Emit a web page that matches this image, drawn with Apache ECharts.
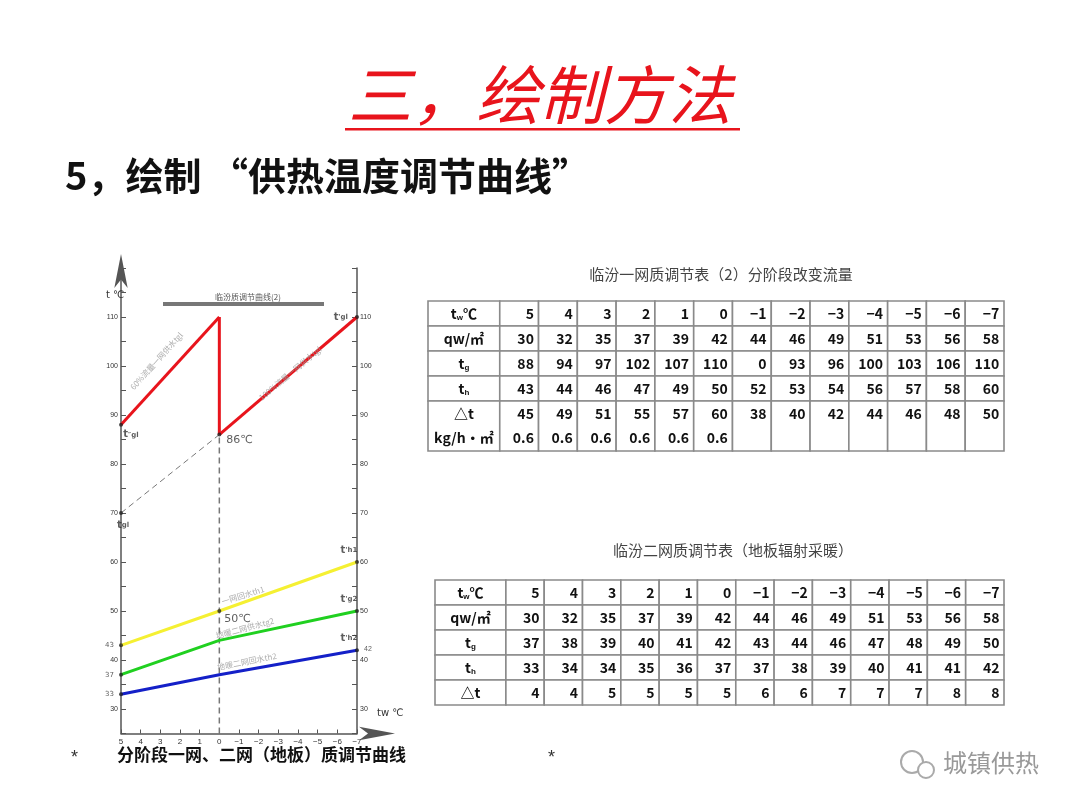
<!DOCTYPE html>
<html><head><meta charset="utf-8">
<script src="https://cdn.jsdelivr.net/npm/echarts@6/dist/echarts.min.js"></script>
<style>html,body{margin:0;background:#fff}#c{width:1080px;height:810px}</style></head>
<body><div id="c"></div>
<script>
// ---- chart data ----
const redA = [[5,88],[0,110]];
const redV = [[0,110],[0,86]];
const redB = [[0,86],[-7,110]];
const dashGray = [[5,70],[0,86]];
const yellow = [[5,43],[0,50],[-7,60]];
const green = [[5,37],[0,44],[-7,50]];
const blue = [[5,33],[0,37],[-7,42]];
const xTicks = [5,4,3,2,1,0,-1,-2,-3,-4,-5,-6,-7];
// ---- table data ----
const t1Title = '临汾一网质调节表（2）分阶段改变流量';
const t1Tw = ['5','4','3','2','1','0','−1','−2','−3','−4','−5','−6','−7'];
const t1Qw = [30,32,35,37,39,42,44,46,49,51,53,56,58];
const t1Tg = [88,94,97,102,107,110,0,93,96,100,103,106,110];
const t1Th = [43,44,46,47,49,50,52,53,54,56,57,58,60];
const t1Dt = [45,49,51,55,57,60,38,40,42,44,46,48,50];
const t1G = ['0.6','0.6','0.6','0.6','0.6','0.6','','','','','','',''];
const t2Title = '临汾二网质调节表（地板辐射采暖）';
const t2Qw = [30,32,35,37,39,42,44,46,49,51,53,56,58];
const t2Tg = [37,38,39,40,41,42,43,44,46,47,48,49,50];
const t2Th = [33,34,34,35,36,37,37,38,39,40,41,41,42];
const t2Dt = [4,4,5,5,5,5,6,6,7,7,7,8,8];

const W0 = 1.85; // first column width in units
function colEdges(c){ return c===0?[0,W0]:[W0+c-1,W0+c]; }
const rich = {n:{fontSize:14,fontWeight:'bold',fontFamily:'Noto Sans CJK SC'},s:{fontSize:8,fontWeight:'bold',verticalAlign:'bottom',padding:[8,0,0,0]}};
function buildTable(rows, rowSpans){
  const cells=[], texts=[];
  rowSpans.forEach(([r0,r1])=>{ for(let c=0;c<14;c++) cells.push([c,r0,r1]); });
  rows.forEach((row)=>{
    texts.push([0,row.y,row.label,'c']);
    row.vals.forEach((v,i)=>texts.push([i+1,row.y,String(v),'r']));
  });
  return {cells,texts};
}
const T1 = buildTable([
  {label:'{n|t}{s|w}{n|℃}',vals:t1Tw,y:0.5},
  {label:'{n|qw/㎡}',vals:t1Qw,y:1.5},
  {label:'{n|t}{s|g}',vals:t1Tg,y:2.5},
  {label:'{n|t}{s|h}',vals:t1Th,y:3.5},
  {label:'{n|△t}',vals:t1Dt,y:4.5},
  {label:'{n|kg/h·㎡}',vals:t1G,y:5.45}
],[[0,1],[1,2],[2,3],[3,4],[4,6]]);
const T2 = buildTable([
  {label:'{n|t}{s|w}{n|℃}',vals:t1Tw,y:0.5},
  {label:'{n|qw/㎡}',vals:t2Qw,y:1.5},
  {label:'{n|t}{s|g}',vals:t2Tg,y:2.5},
  {label:'{n|t}{s|h}',vals:t2Th,y:3.5},
  {label:'{n|△t}',vals:t2Dt,y:4.5}
],[[0,1],[1,2],[2,3],[3,4],[4,5]]);

function cellSeries(gi, data){
  return {type:'custom',xAxisIndex:gi,yAxisIndex:gi,data,silent:true,
    renderItem:(p,api)=>{const e=colEdges(api.value(0));const a=api.coord([e[0],api.value(1)]);const b=api.coord([e[1],api.value(2)]);
      return {type:'rect',shape:{x:a[0],y:a[1],width:b[0]-a[0],height:b[1]-a[1]},style:{fill:'#fff',stroke:'#8a8a8a',lineWidth:1.6}};}};
}
function textSeries(gi, data){
  return {type:'custom',xAxisIndex:gi,yAxisIndex:gi,data,silent:true,
    renderItem:(p,api)=>{const d=data[p.dataIndex];const e=colEdges(d[0]);
      const x = d[3]==='c'? (e[0]+e[1])/2 : e[1]-0.12;const pt=api.coord([x,d[1]]);
      return {type:'text',x:pt[0],y:pt[1],style:{text:d[2],rich,align:d[3]==='c'?'center':'right',verticalAlign:'middle',fill:'#111',font:'bold 14px "Noto Sans CJK SC"'}};}};
}

const chart = echarts.init(document.getElementById('c'));
const ax = {show:false};
function line(data,color,w,dash){return {type:'line',data,xAxisIndex:0,yAxisIndex:0,symbol:'none',lineStyle:{color,width:w,type:dash||'solid'},z:3};}
const lr = {s:{fontSize:7,fontWeight:'bold'},b:{fontSize:10,fontWeight:'bold'}};
function lbl(x,y,text,pos,offset,fs){return {value:[x,y],label:{show:true,formatter:text,position:pos,offset:offset||[0,0],color:'#333',fontSize:fs||11,fontFamily:'DejaVu Sans',rich:lr}};}
const smallGray = {color:'#999',fontSize:8,fontFamily:'Noto Sans CJK SC'};

chart.setOption({
  animation:false,
  title:[
    {text:'三，绘制方法',left:'center',top:58,textStyle:{color:'#e8141c',fontSize:64,fontStyle:'italic',fontWeight:'normal',fontFamily:'Noto Sans CJK SC'}},
    {text:'5，绘制 “供热温度调节曲线”',left:60,top:152,textStyle:{color:'#111',fontSize:38,fontWeight:'bold',fontFamily:'Noto Sans CJK SC'}},
    {text:t1Title,left:716,textAlign:'center',top:262,textStyle:{color:'#444',fontSize:15,fontWeight:'normal',fontFamily:'Noto Sans CJK SC'}},
    {text:t2Title,left:728,textAlign:'center',top:538,textStyle:{color:'#444',fontSize:15,fontWeight:'normal',fontFamily:'Noto Sans CJK SC'}},
    {text:'分阶段一网、二网（地板）质调节曲线',left:112,top:741,textStyle:{color:'#111',fontSize:17,fontWeight:'bold',fontFamily:'Noto Sans CJK SC'}},
    {text:'*',left:66,top:744,textStyle:{color:'#333',fontSize:18,fontWeight:'normal'}},
    {text:'*',left:543,top:744,textStyle:{color:'#333',fontSize:18,fontWeight:'normal'}},
    {text:'城镇供热',left:938,top:746,textStyle:{color:'#999',fontSize:24,fontWeight:'normal',fontFamily:'Noto Sans CJK SC'}},
    {text:'临汾质调节曲线(2)',left:243,textAlign:'center',top:288,textStyle:{color:'#555',fontSize:8,fontWeight:'normal',fontFamily:'Noto Sans CJK SC'}},
    {text:'t ℃',left:101,top:285,textStyle:{color:'#333',fontSize:10,fontWeight:'normal',fontFamily:'DejaVu Sans'}},
    {text:'tw ℃',left:372,top:703,textStyle:{color:'#333',fontSize:10,fontWeight:'normal',fontFamily:'DejaVu Sans'}}
  ],
  graphic:[
    {type:'rect',shape:{x:345,y:128,width:395,height:2.5},style:{fill:'#e8141c'}},
    {type:'rect',shape:{x:163,y:302,width:161,height:4},style:{fill:'#777'}},
    {type:'circle',shape:{cx:912,cy:762,r:11},style:{fill:'none',stroke:'#aaa',lineWidth:2}},
    {type:'circle',shape:{cx:926,cy:770,r:8},style:{fill:'#fff',stroke:'#aaa',lineWidth:2}}
  ],
  grid:[
    {left:121,width:236,top:268,height:465.5},
    {left:428,width:576,top:301,height:150},
    {left:435,width:569,top:580,height:125}
  ],
  xAxis:[
    {type:'value',min:-7,max:5,inverse:true,interval:1,gridIndex:0,
     axisLine:{onZero:false,lineStyle:{color:'#555',width:1.5},symbol:['none','arrow'],symbolSize:[10,36],symbolOffset:[0,38]},
     axisTick:{show:true,inside:true,length:4,lineStyle:{color:'#555'}},splitLine:{show:false},
     axisLabel:{fontSize:8,color:'#333',margin:4,formatter:v=>v<0?'−'+(-v):v}},
    Object.assign({type:'value',min:0,max:W0+13,gridIndex:1},ax),
    Object.assign({type:'value',min:0,max:W0+13,gridIndex:2},ax)
  ],
  yAxis:[
    {type:'value',min:25,max:120,interval:5,gridIndex:0,position:'left',
     axisLine:{show:true,onZero:false,lineStyle:{color:'#555',width:1.5},symbol:['none','arrow'],symbolSize:[10,34],symbolOffset:[0,14]},
     axisTick:{show:true,inside:true,length:5,lineStyle:{color:'#555'}},splitLine:{show:false},
     axisLabel:{fontSize:7,color:'#333',margin:3,formatter:v=>(v%10===0&&v>=30&&v<=110)?v:''}},
    Object.assign({type:'value',min:0,max:6,inverse:true,gridIndex:1},ax),
    Object.assign({type:'value',min:0,max:5,inverse:true,gridIndex:2},ax),
    {type:'value',min:25,max:120,interval:5,gridIndex:0,position:'right',
     axisLine:{show:true,onZero:false,lineStyle:{color:'#555',width:1.5}},
     axisTick:{show:true,inside:true,length:5,lineStyle:{color:'#555'}},splitLine:{show:false},
     axisLabel:{fontSize:7,color:'#333',margin:3,formatter:v=>(v%10===0&&v>=30&&v<=110)?v:''}}
  ],
  series:[
    line(dashGray,'#777',1,[6,4]),
    {type:'line',data:[[0,25],[0,110]],symbol:'none',lineStyle:{color:'#777',width:1.5,type:[6,4]},z:2},
    line(redA,'#e8141c',3), line(redV,'#e8141c',3), line(redB,'#e8141c',3),
    line(yellow,'#f5f032',3), line(green,'#20d020',3), line(blue,'#1420c8',3),
    {type:'scatter',symbolSize:4,itemStyle:{color:'#222'},z:5,data:[
      lbl(5,88,'{b|t}{s|″gl}','bottom',[10,-2]),
      lbl(0,86,'86℃','right',[0,6]),
      lbl(5,70,'{b|t}{s|gl}','bottom',[2,0]),
      lbl(0,50,'50℃','right',[-2,8]),
      lbl(-7,110,'{b|t}{s|\'gl}','left',[-2,0]),
      lbl(-7,60,'{b|t}{s|\'h1}','top',[-8,0]),
      lbl(-7,50,'{b|t}{s|\'g2}','top',[-8,0]),
      lbl(-7,42,'{b|t}{s|\'h2}','top',[-8,0]),
      lbl(5,43,'43','left',[0,0],7),
      lbl(5,37,'37','left',[0,0],7),
      lbl(5,33,'33','left',[0,0],7),
      {value:[-7,42],symbolSize:0,label:{show:true,formatter:'42',position:'right',offset:[2,-1],fontSize:7,color:'#333'}}
    ]},
    {type:'scatter',symbolSize:0,z:6,data:[
      {value:[3.2,101],label:{show:true,formatter:'60%流量一网供水tgl',rotate:48,...smallGray}},
      {value:[-3.6,98.5],label:{show:true,formatter:'100%流量一网供水tgl',rotate:40,...smallGray}},
      {value:[-1.2,53.2],label:{show:true,formatter:'一网回水th1',rotate:17,...smallGray}},
      {value:[-1.3,46.5],label:{show:true,formatter:'地暖二网供水tg2',rotate:15,...smallGray}},
      {value:[-1.4,39.7],label:{show:true,formatter:'地暖二网回水th2',rotate:11,...smallGray}}
    ]},
    cellSeries(1,T1.cells), textSeries(1,T1.texts),
    cellSeries(2,T2.cells), textSeries(2,T2.texts)
  ]
});
</script></body></html>
